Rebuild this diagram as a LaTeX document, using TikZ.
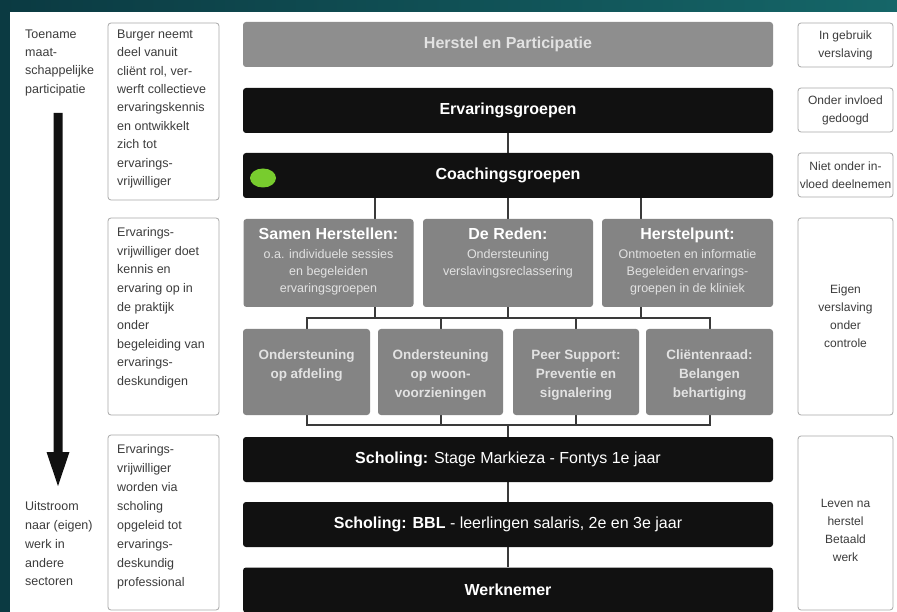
\documentclass[tikz,border=0pt]{standalone}
\usepackage{fontspec}
\setmainfont{Liberation Sans}
\usetikzlibrary{calc,backgrounds,shapes.geometric}
\definecolor{tealA}{HTML}{0B3A42}
\definecolor{tealB}{HTML}{156668}
\definecolor{boxblack}{HTML}{111111}
\definecolor{boxgray}{HTML}{848484}
\definecolor{topgray}{HTML}{8E8E8E}
\definecolor{linegray}{HTML}{3A3A3A}
\definecolor{sideline}{HTML}{A8A8A8}
\definecolor{subtxt}{HTML}{E2E2E2}
\definecolor{leafgreen}{HTML}{78CC2E}
\definecolor{txtgray}{HTML}{3C3C3C}
\begin{document}
\begin{tikzpicture}[x=1pt,y=-1pt,
  widebox/.style={minimum width=530pt, minimum height=45pt, rounded corners=3pt, inner sep=0pt,
    font=\bfseries\fontsize{16}{19}\selectfont},
  darkbox/.style={widebox, fill=boxblack, text=white},
  midbox/.style={fill=boxgray, rounded corners=3pt, minimum height=88pt, inner sep=0pt},
  leafbox/.style={fill=boxgray, rounded corners=3pt, minimum height=86pt, inner sep=0pt},
  ttl/.style={anchor=base, inner sep=0pt, text=white, font=\bfseries\fontsize{16}{19}\selectfont},
  subt/.style={anchor=north, inner sep=0pt, align=center, text=subtxt, font=\fontsize{12.5}{17}\selectfont},
  leaftxt/.style={anchor=north, inner sep=0pt, align=center, text=subtxt, font=\bfseries\fontsize{13.5}{19}\selectfont},
  sidebox/.style={draw=sideline, line width=0.8pt, rounded corners=3pt, fill=white, inner sep=0pt},
  lefttxt/.style={anchor=north west, inner sep=0pt, align=left, text=txtgray},
  rbox/.style={sidebox, minimum width=95pt, align=center, text=txtgray, font=\fontsize{12}{18}\selectfont},
  conn/.style={draw=linegray, line width=2pt}
]
\useasboundingbox (0,0) rectangle (897,612);

% ---------- central column ----------
\node[widebox, fill=topgray, text=subtxt] (herstel) at (508,44.5) {Herstel en Participatie};
\node[darkbox] (erv) at (508,110.5) {Ervaringsgroepen};
\node[darkbox] (coach) at (508,175.5) {Coachingsgroepen};
\node[ellipse, fill=leafgreen, minimum width=26pt, minimum height=19pt, inner sep=0pt] (dot) at (263,178) {};

\node[midbox, minimum width=170pt] (m1) at (328.5,263) {};
\node[midbox, minimum width=170pt] (m2) at (508,263) {};
\node[midbox, minimum width=171pt] (m3) at (687.5,263) {};
\node[ttl] (m1t) at (328.5,240) {Samen Herstellen:};
\node[ttl] (m2t) at (508,240) {De Reden:};
\node[ttl] (m3t) at (687.5,240) {Herstelpunt:};
\node[subt] (m1s) at (328.5,249.2) {o.a. individuele sessies\\en begeleiden\\ervaringsgroepen};
\node[subt] (m2s) at (508,249.2) {Ondersteuning\\verslavingsreclassering};
\node[subt] (m3s) at (687.5,249.2) {Ontmoeten en informatie\\Begeleiden ervarings-\\groepen in de kliniek};

\node[leafbox, minimum width=127pt] (f1) at (306.5,372) {};
\node[leafbox, minimum width=125pt] (f2) at (440.5,372) {};
\node[leafbox, minimum width=126pt] (f3) at (576,372) {};
\node[leafbox, minimum width=127pt] (f4) at (709.5,372) {};
\node[leaftxt] (f1t) at (306.5,349.6) {Ondersteuning\\op afdeling};
\node[leaftxt] (f2t) at (440.5,349.6) {Ondersteuning\\op woon-\\voorzieningen};
\node[leaftxt] (f3t) at (576,349.6) {Peer Support:\\Preventie en\\signalering};
\node[leaftxt] (f4t) at (709.5,349.6) {Cliëntenraad:\\Belangen\\behartiging};

\node[darkbox] (s1) at (508,459.5) {Scholing: \mdseries Stage Markieza - Fontys 1e jaar};
\node[darkbox] (s2) at (508,524.5) {Scholing: BBL \mdseries - leerlingen salaris, 2e en 3e jaar};
\node[darkbox] (werk) at (508,590) {Werknemer};

% ---------- left column ----------
\node[lefttxt, font=\fontsize{12.5}{18.3}\selectfont] (toename) at (25,29.5) {Toename\\maat-\\schappelijke\\participatie};
\node[lefttxt, font=\fontsize{12.5}{18.75}\selectfont] (uitstroom) at (25,501.5) {Uitstroom\\naar (eigen)\\werk in\\andere\\sectoren};
\coordinate (atop) at (58,113);
\coordinate (atip) at (58,486);
\fill[boxblack] ($(atop)+(-4.5,0)$) -- ($(atip)+(-4.5,-34)$) -- ($(atip)+(-11.5,-34)$) -- (atip)
  -- ($(atip)+(11.5,-34)$) -- ($(atip)+(4.5,-34)$) -- ($(atop)+(4.5,0)$) -- cycle;

\node[sidebox, minimum width=111pt, minimum height=177pt] (lb1) at (163.5,111.5) {};
\node[sidebox, minimum width=111pt, minimum height=197pt] (lb2) at (163.5,316.5) {};
\node[sidebox, minimum width=111pt, minimum height=175pt] (lb3) at (163.5,522.5) {};
\node[lefttxt, font=\fontsize{12.5}{18.4}\selectfont] (lb1t) at (117,29.5) {Burger neemt\\deel vanuit\\cliënt rol, ver-\\werft collectieve\\ervaringskennis\\en ontwikkelt\\zich tot\\ervarings-\\vrijwilliger};
\node[lefttxt, font=\fontsize{12.5}{18.6}\selectfont] (lb2t) at (117,227.5) {Ervarings-\\vrijwilliger doet\\kennis en\\ervaring op in\\de praktijk\\onder\\begeleiding van\\ervarings-\\deskundigen};
\node[lefttxt, font=\fontsize{12.5}{18.9}\selectfont] (lb3t) at (117,444.5) {Ervarings-\\vrijwilliger\\worden via\\scholing\\opgeleid tot\\ervarings-\\deskundig\\professional};

% ---------- right column ----------
\node[rbox, minimum height=44pt] (r1) at (845.5,45) {In gebruik\\verslaving};
\node[rbox, minimum height=44pt] (r2) at (845.5,110) {Onder invloed\\gedoogd};
\node[rbox, minimum height=44pt] (r3) at (845.5,175) {Niet onder in-\\vloed deelnemen};
\node[rbox, minimum height=197pt] (r4) at (845.5,316.5) {Eigen\\verslaving\\onder\\controle};
\node[rbox, minimum height=174pt] (r5) at (845.5,523) {};
\node[align=center, inner sep=0pt, text=txtgray, font=\fontsize{12}{18}\selectfont] (r5t) at (845.5,530) {Leven na\\herstel\\Betaald\\werk};

% ---------- background and connectors ----------
\begin{pgfonlayer}{background}
  \fill[left color=tealA, right color=tealB] (0,0) rectangle (897,612);
  \fill[white] (10,12) rectangle (897,612);
  \coordinate (busA) at (508,318);
  \coordinate (busB) at (508,425);
  \coordinate (qa) at ($(coach.south west)!0.25!(coach.south east)$);
  \coordinate (qc) at ($(coach.south west)!0.75!(coach.south east)$);
  \draw[conn] (erv) -- (coach);
  \draw[conn] (qa) -- (qa |- busA);
  \draw[conn] (coach) -- (busA);
  \draw[conn] (qc) -- (qc |- busA);
  \draw[conn] (f1) |- (busA) -| (f4);
  \draw[conn] (f2) -- (f2 |- busA);
  \draw[conn] (f3) -- (f3 |- busA);
  \draw[conn] (f1) |- (busB) -| (f4);
  \draw[conn] (f2) -- (f2 |- busB);
  \draw[conn] (f3) -- (f3 |- busB);
  \draw[conn] (busB) -- (s1);
  \draw[conn] (s1) -- (s2);
  \draw[conn] (s2) -- (werk);
\end{pgfonlayer}
\end{tikzpicture}
\end{document}
